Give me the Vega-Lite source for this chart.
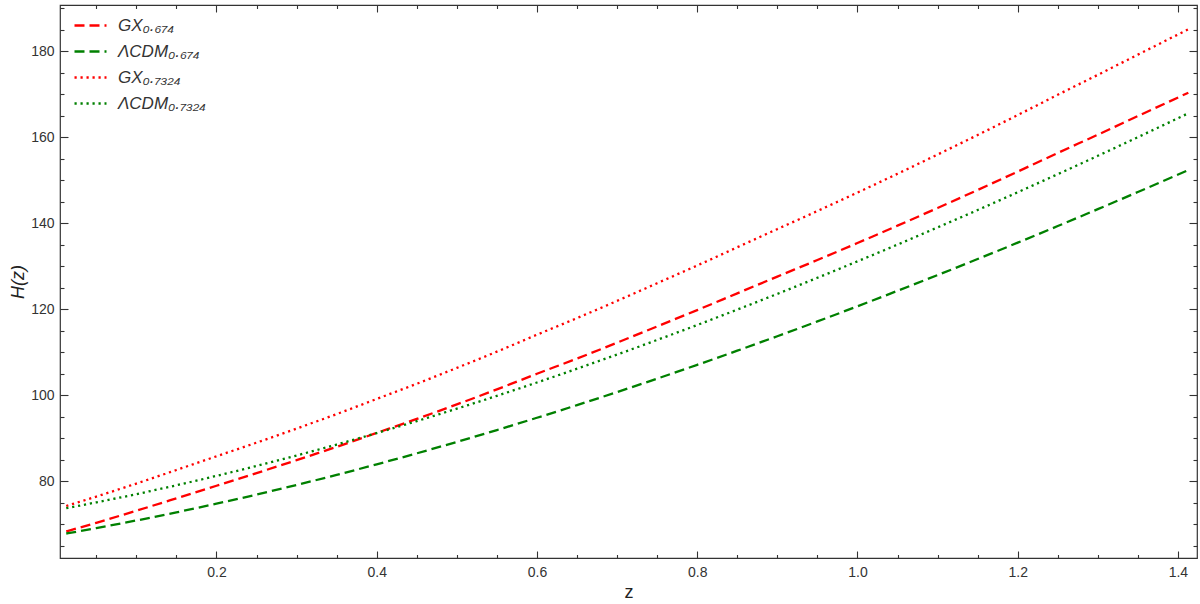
{
  "$schema": "https://vega.github.io/schema/vega-lite/v6.json",
  "width": 1137,
  "height": 553,
  "autosize": "none",
  "padding": {"left": 60, "top": 5, "right": 3, "bottom": 46},
  "background": "white",
  "config": {
    "font": "Liberation Sans",
    "view": {"stroke": "#333333", "strokeWidth": 1.2},
    "axis": {"domain": false, "grid": false, "tickColor": "#333333", "tickWidth": 1.1, "labelColor": "#333333", "titleColor": "#222222", "labelFont": "Liberation Sans", "titleFont": "Liberation Sans", "labelFontSize": 14, "titleFontSize": 18, "titleFontWeight": "normal"}
  },
  "data": {"values": [
    {"z": 0.0125, "gx1": 68.27, "lcdm1": 67.80, "gx2": 74.20, "lcdm2": 73.68},
    {"z": 0.05, "gx1": 70.29, "lcdm1": 69.05, "gx2": 76.39, "lcdm2": 75.04},
    {"z": 0.1, "gx1": 73.10, "lcdm1": 70.83, "gx2": 79.42, "lcdm2": 76.96},
    {"z": 0.15, "gx1": 75.99, "lcdm1": 72.72, "gx2": 82.58, "lcdm2": 79.02},
    {"z": 0.2, "gx1": 78.91, "lcdm1": 74.73, "gx2": 85.76, "lcdm2": 81.21},
    {"z": 0.25, "gx1": 81.85, "lcdm1": 76.85, "gx2": 88.94, "lcdm2": 83.51},
    {"z": 0.3, "gx1": 84.86, "lcdm1": 79.09, "gx2": 92.22, "lcdm2": 85.95},
    {"z": 0.35, "gx1": 87.96, "lcdm1": 81.44, "gx2": 95.58, "lcdm2": 88.50},
    {"z": 0.4, "gx1": 91.20, "lcdm1": 83.90, "gx2": 99.10, "lcdm2": 91.17},
    {"z": 0.45, "gx1": 94.45, "lcdm1": 86.45, "gx2": 102.64, "lcdm2": 93.95},
    {"z": 0.5, "gx1": 97.84, "lcdm1": 89.11, "gx2": 106.33, "lcdm2": 96.84},
    {"z": 0.55, "gx1": 101.33, "lcdm1": 91.87, "gx2": 110.11, "lcdm2": 99.83},
    {"z": 0.6, "gx1": 104.96, "lcdm1": 94.73, "gx2": 114.05, "lcdm2": 102.93},
    {"z": 0.65, "gx1": 108.51, "lcdm1": 97.67, "gx2": 117.92, "lcdm2": 106.14},
    {"z": 0.7, "gx1": 112.19, "lcdm1": 100.71, "gx2": 121.92, "lcdm2": 109.44},
    {"z": 0.75, "gx1": 115.98, "lcdm1": 103.83, "gx2": 126.03, "lcdm2": 112.83},
    {"z": 0.8, "gx1": 119.78, "lcdm1": 107.04, "gx2": 130.15, "lcdm2": 116.31},
    {"z": 0.85, "gx1": 123.68, "lcdm1": 110.33, "gx2": 134.40, "lcdm2": 119.89},
    {"z": 0.9, "gx1": 127.57, "lcdm1": 113.70, "gx2": 138.62, "lcdm2": 123.55},
    {"z": 0.95, "gx1": 131.43, "lcdm1": 117.14, "gx2": 142.82, "lcdm2": 127.29},
    {"z": 1.0, "gx1": 135.38, "lcdm1": 120.66, "gx2": 147.12, "lcdm2": 131.12},
    {"z": 1.05, "gx1": 139.42, "lcdm1": 124.26, "gx2": 151.49, "lcdm2": 135.02},
    {"z": 1.1, "gx1": 143.53, "lcdm1": 127.92, "gx2": 155.97, "lcdm2": 139.01},
    {"z": 1.15, "gx1": 147.72, "lcdm1": 131.66, "gx2": 160.51, "lcdm2": 143.06},
    {"z": 1.2, "gx1": 151.99, "lcdm1": 135.46, "gx2": 165.15, "lcdm2": 147.19},
    {"z": 1.25, "gx1": 156.33, "lcdm1": 139.33, "gx2": 169.87, "lcdm2": 151.40},
    {"z": 1.3, "gx1": 160.59, "lcdm1": 143.26, "gx2": 174.51, "lcdm2": 155.67},
    {"z": 1.35, "gx1": 164.92, "lcdm1": 147.25, "gx2": 179.21, "lcdm2": 160.01},
    {"z": 1.413, "gx1": 170.35, "lcdm1": 152.37, "gx2": 185.11, "lcdm2": 165.57}
  ]},
  "transform": [{"fold": ["gx1", "lcdm1", "gx2", "lcdm2"], "as": ["series", "H"]}],
  "layer": [
    {
      "mark": {"type": "line", "strokeWidth": 2.3, "interpolate": "monotone"},
      "encoding": {
        "x": {
          "field": "z", "type": "quantitative",
          "scale": {"domain": [0.0047, 1.4238], "nice": false, "zero": false},
          "axis": {
            "orient": "bottom", "title": "z", "titlePadding": 4,
            "values": [0.05,0.1,0.15,0.2,0.25,0.3,0.35,0.4,0.45,0.5,0.55,0.6,0.65,0.7,0.75,0.8,0.85,0.9,0.95,1.0,1.05,1.1,1.15,1.2,1.25,1.3,1.35,1.4],
            "labelExpr": "abs(datum.value*5 - round(datum.value*5)) < 0.000001 ? format(datum.value, '.1f') : ''",
            "tickSize": {"condition": {"test": "abs(datum.value*5 - round(datum.value*5)) < 0.000001", "value": -7}, "value": -3.5},
            "labelPadding": 14
          }
        },
        "y": {
          "field": "H", "type": "quantitative",
          "scale": {"domain": [62.1, 190.76], "nice": false, "zero": false},
          "axis": {
            "orient": "left", "title": "H(z)", "titleFontStyle": "italic", "titlePadding": 3,
            "values": [65,70,75,80,85,90,95,100,105,110,115,120,125,130,135,140,145,150,155,160,165,170,175,180,185,190],
            "labelExpr": "datum.value % 20 === 0 ? format(datum.value, 'd') : ''",
            "tickSize": {"condition": {"test": "datum.value % 20 === 0", "value": -8}, "value": -4},
            "labelPadding": 14
          }
        },
        "color": {
          "field": "series", "type": "nominal",
          "scale": {"domain": ["gx1", "lcdm1", "gx2", "lcdm2"], "range": ["#ff0000", "#008000", "#ff0000", "#008000"]},
          "legend": {
            "title": null, "orient": "none", "legendX": 13, "legendY": 3, "padding": 0,
            "labelExpr": "datum.label === 'gx1' ? 'GX₀.₆₇₄' : datum.label === 'lcdm1' ? 'ΛCDM₀.₆₇₄' : datum.label === 'gx2' ? 'GX₀.₇₃₂₄' : 'ΛCDM₀.₇₃₂₄'",
            "labelFontSize": 17, "labelFontStyle": "italic", "labelColor": "#333333", "labelFont": "Liberation Sans",
            "symbolType": "stroke", "symbolSize": 1024, "symbolStrokeWidth": 2.5, "rowPadding": 0, "labelOffset": 10
          }
        },
        "strokeDash": {
          "field": "series", "type": "nominal",
          "scale": {"domain": ["gx1", "lcdm1", "gx2", "lcdm2"], "range": [[10, 5], [10, 5], [2.2, 3.8], [2.2, 3.8]]},
          "legend": {
            "title": null, "orient": "none", "legendX": 13, "legendY": 3, "padding": 0,
            "labelExpr": "datum.label === 'gx1' ? 'GX₀.₆₇₄' : datum.label === 'lcdm1' ? 'ΛCDM₀.₆₇₄' : datum.label === 'gx2' ? 'GX₀.₇₃₂₄' : 'ΛCDM₀.₇₃₂₄'",
            "labelFontSize": 17, "labelFontStyle": "italic", "labelColor": "#333333", "labelFont": "Liberation Sans",
            "symbolType": "stroke", "symbolSize": 1024, "symbolStrokeWidth": 2.5, "rowPadding": 0, "labelOffset": 10
          }
        }
      }
    },
    {
      "mark": {"type": "point", "opacity": 0},
      "encoding": {
        "x": {
          "field": "z", "type": "quantitative",
          "scale": {"domain": [0.0047, 1.4238], "nice": false, "zero": false},
          "axis": {
            "orient": "top", "title": null, "labels": false,
            "values": [0.05,0.1,0.15,0.2,0.25,0.3,0.35,0.4,0.45,0.5,0.55,0.6,0.65,0.7,0.75,0.8,0.85,0.9,0.95,1.0,1.05,1.1,1.15,1.2,1.25,1.3,1.35,1.4],
            "tickSize": {"condition": {"test": "abs(datum.value*5 - round(datum.value*5)) < 0.000001", "value": -7}, "value": -3.5}
          }
        },
        "y": {
          "field": "H", "type": "quantitative",
          "scale": {"domain": [62.1, 190.76], "nice": false, "zero": false},
          "axis": {
            "orient": "right", "title": null, "labels": false,
            "values": [65,70,75,80,85,90,95,100,105,110,115,120,125,130,135,140,145,150,155,160,165,170,175,180,185,190],
            "tickSize": {"condition": {"test": "datum.value % 20 === 0", "value": -8}, "value": -4}
          }
        }
      }
    }
  ],
  "resolve": {"scale": {"x": "independent", "y": "independent"}}
}
